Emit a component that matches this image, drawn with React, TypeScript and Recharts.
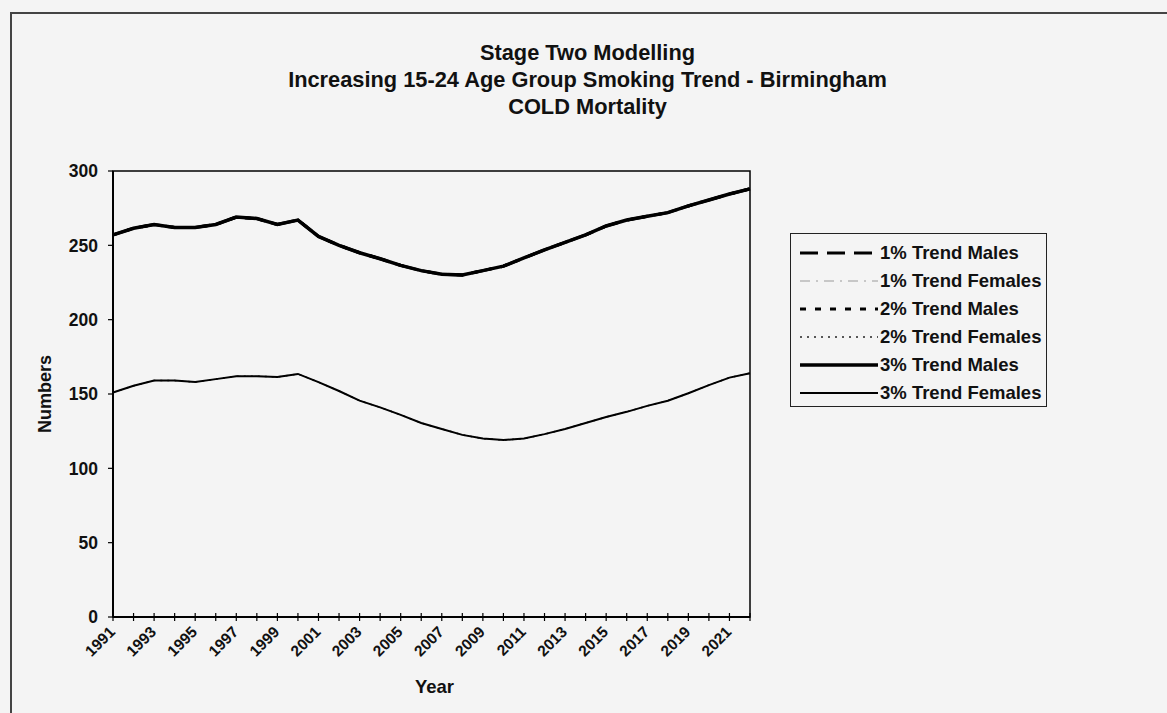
import { LineChart, Line, XAxis, YAxis, Legend, ReferenceArea } from "recharts";

// years on the category axis
const years = [
  "1991", "1992", "1993", "1994", "1995", "1996", "1997", "1998",
  "1999", "2000", "2001", "2002", "2003", "2004", "2005", "2006",
  "2007", "2008", "2009", "2010", "2011", "2012", "2013", "2014",
  "2015", "2016", "2017", "2018", "2019", "2020", "2021", "2022",
];

// male series (1%, 2% and 3% trends sit on top of each other)
const malesTrend = [
  257, 261.5, 264, 262, 262, 264, 269, 268, 264, 267, 256, 250, 245, 241,
  236.5, 233, 230.5, 230, 233, 236, 241.5, 247, 252, 257, 263, 267, 269.5,
  272, 276.5, 280.5, 284.5, 288,
];

// female series (also overlapping)
const femalesTrend = [
  151, 155.5, 159, 159, 158, 160, 162, 162, 161.5, 163.5, 158, 152, 145.5,
  141, 136, 130.5, 126.5, 122.5, 120, 119, 120, 123, 126.5, 130.5, 134.5,
  138, 142, 145.5, 150.5, 156, 161, 164,
];

const yTicks = [0, 50, 100, 150, 200, 250, 300];

const titleLines = [
  "Stage Two Modelling",
  "Increasing 15-24 Age Group Smoking Trend - Birmingham",
  "COLD Mortality",
];

const FONT = "'Liberation Sans', Arial, sans-serif";

const series = [
  { key: "m1", name: "1% Trend Males", values: malesTrend, color: "#000", width: 3, dash: "18 9" },
  { key: "f1", name: "1% Trend Females", values: femalesTrend, color: "#9a9a9a", width: 1, dash: "10 6 2 6" },
  { key: "m2", name: "2% Trend Males", values: malesTrend, color: "#000", width: 3, dash: "6 9" },
  { key: "f2", name: "2% Trend Females", values: femalesTrend, color: "#222", width: 1.5, dash: "2 5" },
  { key: "m3", name: "3% Trend Males", values: malesTrend, color: "#000", width: 3.5, dash: undefined },
  { key: "f3", name: "3% Trend Females", values: femalesTrend, color: "#000", width: 2, dash: undefined },
];

const data = years.map((year, i) => {
  const row: Record<string, string | number> = { year };
  series.forEach((s) => {
    row[s.key] = s.values[i];
  });
  return row;
});

function YearTick(props: any) {
  const { x, y, payload, index } = props;
  const axisY = y - 6;
  const ax = x + 3;
  const ay = axisY + 16;
  return (
    <g>
      <line x1={x} x2={x} y1={axisY - 4} y2={axisY + 4} stroke="#000" strokeWidth={1.2} />
      {index % 2 === 0 && (
        <text
          x={ax}
          y={ay}
          textAnchor="end"
          transform={`rotate(-45, ${ax}, ${ay})`}
          fontFamily={FONT}
          fontWeight="bold"
          fontSize={15.5}
          fill="#111"
        >
          {payload.value}
        </text>
      )}
    </g>
  );
}

function NumberTick(props: any) {
  const { x, y, payload } = props;
  return (
    <text x={x} y={y} dy="0.36em" textAnchor="end" fontFamily={FONT} fontWeight="bold" fontSize={17.5} fill="#111">
      {payload.value}
    </text>
  );
}

function renderLegend() {
  return (
    <div
      style={{
        width: 257,
        height: 174,
        border: "1px solid #222",
        boxSizing: "border-box",
        paddingTop: 5,
        background: "#f4f4f4",
      }}
    >
      {series.map((s) => (
        <div key={s.key} style={{ display: "flex", alignItems: "center", height: 28 }}>
          <svg width={80} height={10} style={{ marginLeft: 9, flex: "none" }}>
            <line x1={0} x2={78} y1={5} y2={5} stroke={s.color} strokeWidth={s.width} strokeDasharray={s.dash} />
          </svg>
          <span style={{ font: `bold 18.5px ${FONT}`, color: "#111", whiteSpace: "nowrap" }}>{s.name}</span>
        </div>
      ))}
    </div>
  );
}

export default function App() {
  return (
    <div style={{ position: "fixed", left: 0, top: 0, width: 1167, height: 713, background: "#f4f4f4", overflow: "hidden" }}>
      {/* outer frame of the scanned page */}
      <div
        style={{
          position: "absolute",
          left: 10,
          top: 12,
          width: 1200,
          height: 760,
          borderLeft: "2px solid #444",
          borderTop: "2px solid #444",
        }}
      />
      <div
        style={{
          position: "absolute",
          left: 0,
          top: 39,
          width: 1175,
          textAlign: "center",
          font: `bold 21.8px ${FONT}`,
          lineHeight: "27px",
          color: "#111",
        }}
      >
        {titleLines.map((t) => (
          <div key={t}>{t}</div>
        ))}
      </div>
      <div style={{ position: "absolute", left: 0, top: 0 }}>
        <LineChart width={1167} height={713} data={data} margin={{ top: 171, right: 417, bottom: 0, left: 0 }}>
          <XAxis
            dataKey="year"
            height={96}
            interval={0}
            tick={<YearTick />}
            tickLine={false}
            tickSize={4}
            tickMargin={2}
            axisLine={{ stroke: "#000", strokeWidth: 2 }}
            label={{
              content: (p: any) => (
                <text
                  x={p.viewBox.x + p.viewBox.width / 2 + 3}
                  y={p.viewBox.y + 76}
                  textAnchor="middle"
                  fontFamily={FONT}
                  fontWeight="bold"
                  fontSize={18.5}
                  fill="#111"
                >
                  Year
                </text>
              ),
            }}
          />
          <YAxis
            width={113}
            domain={[0, 300]}
            ticks={yTicks}
            interval={0}
            tick={<NumberTick />}
            tickSize={5}
            tickMargin={10}
            tickLine={{ stroke: "#000", strokeWidth: 1.2 }}
            axisLine={{ stroke: "#000", strokeWidth: 2 }}
            label={{
              content: (p: any) => (
                <text
                  x={p.viewBox.x + 45}
                  y={p.viewBox.y + p.viewBox.height / 2}
                  textAnchor="middle"
                  dominantBaseline="central"
                  transform={`rotate(-90, ${p.viewBox.x + 45}, ${p.viewBox.y + p.viewBox.height / 2})`}
                  fontFamily={FONT}
                  fontWeight="bold"
                  fontSize={18}
                  fill="#111"
                >
                  Numbers
                </text>
              ),
            }}
          />
          {/* plot area border */}
          <ReferenceArea
            x1={years[0]}
            x2={years[years.length - 1]}
            y1={yTicks[0]}
            y2={yTicks[yTicks.length - 1]}
            fill="none"
            fillOpacity={0}
            stroke="#000"
            strokeWidth={1.5}
          />
          {series.map((s) => (
            <Line
              key={s.key}
              dataKey={s.key}
              name={s.name}
              type="linear"
              stroke={s.color}
              strokeWidth={s.width}
              strokeDasharray={s.dash}
              dot={false}
              activeDot={false}
              isAnimationActive={false}
            />
          ))}
          <Legend
            layout="vertical"
            align="center"
            verticalAlign="middle"
            content={renderLegend}
            wrapperStyle={{ left: 790, top: 233, width: 257, height: 174 }}
          />
        </LineChart>
      </div>
    </div>
  );
}
